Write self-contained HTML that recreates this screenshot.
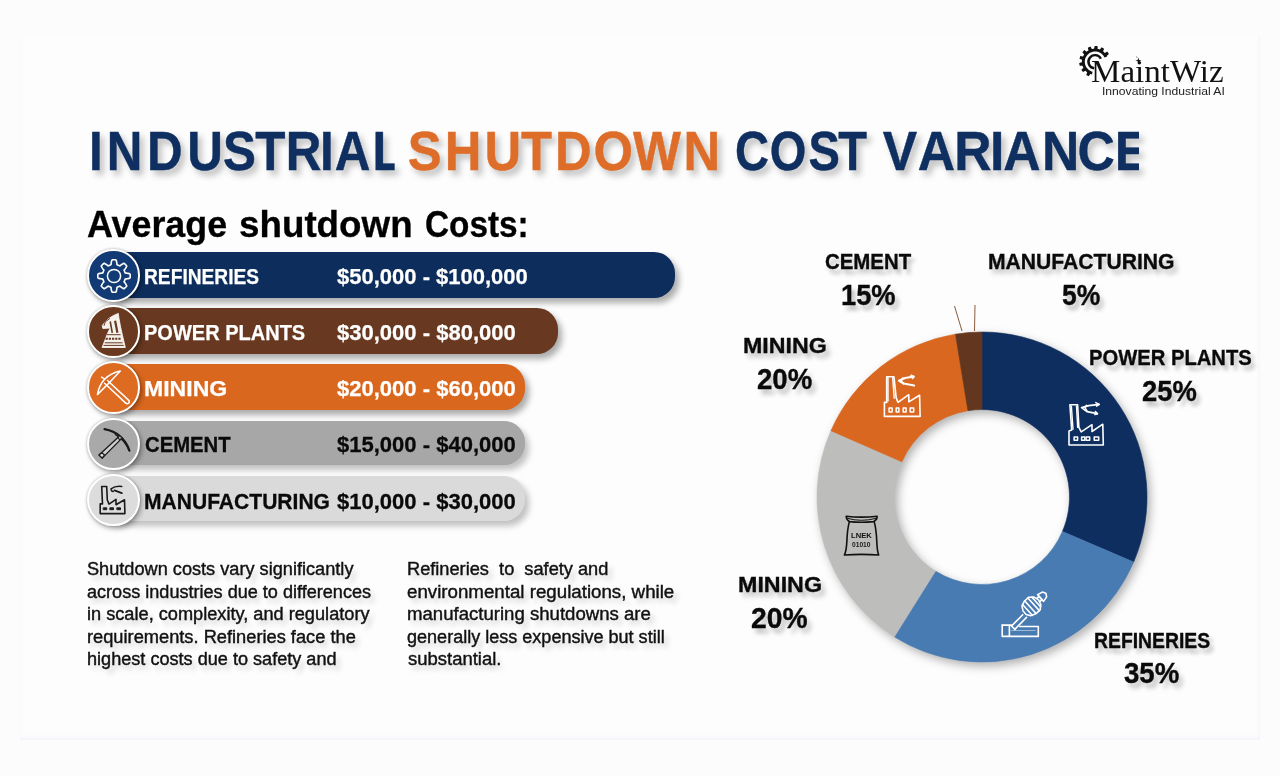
<!DOCTYPE html>
<html lang="en"><head><meta charset="utf-8"><title>Industrial Shutdown Cost Variance</title>
<style>
html,body{margin:0;padding:0}
body{width:1280px;height:776px;position:relative;overflow:hidden;background:#fcfcfc;font-family:"Liberation Sans",sans-serif}
.panel{position:absolute;left:20px;top:36px;width:1240px;height:704px;background:#fdfdfd;box-shadow:inset 0 -3px 4px -1px rgba(205,215,238,.22),inset -2px 0 3px -1px rgba(215,222,240,.12)}
.t{position:absolute;white-space:nowrap;line-height:1;transform-origin:0 0;margin:0}
.sh-title{text-shadow:4px 5px 6px rgba(0,0,0,.24)}
.sh-lab{text-shadow:4px 5px 5px rgba(0,0,0,.27);-webkit-text-stroke-width:.35px}
.sh-p{text-shadow:4px 5px 5px rgba(0,0,0,.19);-webkit-text-stroke:.4px #111}
.sh-bar-w{-webkit-text-stroke-width:.25px}
.sh-bar-k{-webkit-text-stroke-width:.3px}
.sh-sub{-webkit-text-stroke-width:.3px}
.bar{position:absolute;left:113px;height:46px;border-radius:0 21px 21px 0;box-shadow:4px 5px 6px rgba(0,0,0,.32)}
.circ{position:absolute;left:87.4px;width:48.4px;height:48.4px;border-radius:50%;border:2px solid #fff;box-shadow:0 0 3px rgba(0,0,0,.28),2px 3px 5px rgba(0,0,0,.30)}
.circ svg{position:absolute;left:-1.8px;top:-1.8px;width:52px;height:52px;overflow:visible}
svg.abs{position:absolute;left:0;top:0;overflow:visible}
.soft{position:absolute;left:0;top:0;width:1280px;height:776px;filter:blur(.55px)}
.ttl text{font-family:"Liberation Sans",sans-serif;font-weight:700;font-size:56.4px}

</style></head>
<body>
<div class="soft">
<div class="panel"></div>
<div class="bar" style="top:252px;width:561.5px;height:46px;background:#0d2e5d"></div>
<div class="bar" style="top:308px;width:445px;height:46px;background:#683820"></div>
<div class="bar" style="top:364px;width:412px;height:46px;background:#da671e"></div>
<div class="bar" style="top:420.5px;width:411.5px;height:44.5px;background:#a6a7a6;box-shadow:4px 5px 6px rgba(0,0,0,.24)"></div>
<div class="bar" style="top:476.3px;width:412px;height:44.5px;background:#dadada;box-shadow:4px 5px 6px rgba(0,0,0,.24)"></div>
<div class="circ" style="top:249.4px;background:#123a75"><svg viewBox="0 0 52 52"><g fill="none" stroke="#fff" stroke-width="1.5" stroke-linejoin="round" stroke-linecap="round"><path d="M42.2 26.0L42.2 26.4L42.2 26.8L42.2 27.3L42.1 27.7L41.9 28.1L41.1 28.4L40.1 28.6L39.1 28.8L38.2 28.9L37.3 29.0L37.1 29.3L37.0 29.6L36.9 29.9L36.8 30.2L36.7 30.4L36.6 30.7L36.5 31.0L36.3 31.3L36.2 31.5L36.1 31.9L36.7 32.6L37.3 33.3L37.8 34.1L38.3 35.0L38.8 35.8L38.6 36.2L38.3 36.5L38.0 36.8L37.8 37.2L37.5 37.5L37.2 37.8L36.8 38.0L36.5 38.3L36.2 38.6L35.8 38.8L35.0 38.3L34.1 37.8L33.3 37.3L32.6 36.7L31.9 36.1L31.5 36.2L31.3 36.3L31.0 36.5L30.7 36.6L30.4 36.7L30.2 36.8L29.9 36.9L29.6 37.0L29.3 37.1L29.0 37.3L28.9 38.2L28.8 39.1L28.6 40.1L28.4 41.1L28.1 41.9L27.7 42.1L27.3 42.2L26.8 42.2L26.4 42.2L26.0 42.2L25.6 42.2L25.2 42.2L24.7 42.2L24.3 42.1L23.9 41.9L23.6 41.1L23.4 40.1L23.2 39.1L23.1 38.2L23.0 37.3L22.7 37.1L22.4 37.0L22.1 36.9L21.8 36.8L21.6 36.7L21.3 36.6L21.0 36.5L20.7 36.3L20.5 36.2L20.1 36.1L19.4 36.7L18.7 37.3L17.9 37.8L17.0 38.3L16.2 38.8L15.8 38.6L15.5 38.3L15.2 38.0L14.8 37.8L14.5 37.5L14.2 37.2L14.0 36.8L13.7 36.5L13.4 36.2L13.2 35.8L13.7 35.0L14.2 34.1L14.7 33.3L15.3 32.6L15.9 31.9L15.8 31.5L15.7 31.3L15.5 31.0L15.4 30.7L15.3 30.4L15.2 30.2L15.1 29.9L15.0 29.6L14.9 29.3L14.7 29.0L13.8 28.9L12.9 28.8L11.9 28.6L10.9 28.4L10.1 28.1L9.9 27.7L9.8 27.3L9.8 26.8L9.8 26.4L9.8 26.0L9.8 25.6L9.8 25.2L9.8 24.7L9.9 24.3L10.1 23.9L10.9 23.6L11.9 23.4L12.9 23.2L13.8 23.1L14.7 23.0L14.9 22.7L15.0 22.4L15.1 22.1L15.2 21.8L15.3 21.6L15.4 21.3L15.5 21.0L15.7 20.7L15.8 20.5L15.9 20.1L15.3 19.4L14.7 18.7L14.2 17.9L13.7 17.0L13.2 16.2L13.4 15.8L13.7 15.5L14.0 15.2L14.2 14.8L14.5 14.5L14.8 14.2L15.2 14.0L15.5 13.7L15.8 13.4L16.2 13.2L17.0 13.7L17.9 14.2L18.7 14.7L19.4 15.3L20.1 15.9L20.5 15.8L20.7 15.7L21.0 15.5L21.3 15.4L21.6 15.3L21.8 15.2L22.1 15.1L22.4 15.0L22.7 14.9L23.0 14.7L23.1 13.8L23.2 12.9L23.4 11.9L23.6 10.9L23.9 10.1L24.3 9.9L24.7 9.8L25.2 9.8L25.6 9.8L26.0 9.8L26.4 9.8L26.8 9.8L27.3 9.8L27.7 9.9L28.1 10.1L28.4 10.9L28.6 11.9L28.8 12.9L28.9 13.8L29.0 14.7L29.3 14.9L29.6 15.0L29.9 15.1L30.2 15.2L30.4 15.3L30.7 15.4L31.0 15.5L31.3 15.7L31.5 15.8L31.9 15.9L32.6 15.3L33.3 14.7L34.1 14.2L35.0 13.7L35.8 13.2L36.2 13.4L36.5 13.7L36.8 14.0L37.2 14.2L37.5 14.5L37.8 14.8L38.0 15.2L38.3 15.5L38.6 15.8L38.8 16.2L38.3 17.0L37.8 17.9L37.3 18.7L36.7 19.4L36.1 20.1L36.2 20.5L36.3 20.7L36.5 21.0L36.6 21.3L36.7 21.6L36.8 21.8L36.9 22.1L37.0 22.4L37.1 22.7L37.3 23.0L38.2 23.1L39.1 23.2L40.1 23.4L41.1 23.6L41.9 23.9L42.1 24.3L42.2 24.7L42.2 25.2L42.2 25.6Z" stroke-width="1.6"/><circle cx="26" cy="26" r="6.6"/></g></svg></div>
<div class="circ" style="top:305.4px;background:#6a3a20"><svg viewBox="0 0 52 52"><path d="M30.3 7.4Q31.1 15.9 37.3 41.5L14.1 41.5L19.5 27.5L22.2 22.1L14.9 22.5L14.2 19.8Q19.5 11.3 30.3 7.4Z" fill="#f4f0ec" stroke="#fff" stroke-width=".8" stroke-linejoin="round"/>
<g stroke="#6a3a20" fill="none"><path d="M18.7 28.7L32.6 28.7" stroke-width="1"/><path d="M17.6 32.8L33.4 32.8" stroke-width="1.9" stroke-dasharray="2.2 1"/><path d="M16.8 36.8L34.6 36.8" stroke-width="1"/><path d="M15.6 39.4L35.7 39.4" stroke-width="1"/>
<path d="M22.2 15.5L24.3 26.8" stroke-width="1.6"/><path d="M27.1 14.8L29.4 26.8" stroke-width="2.2"/><path d="M21.8 12.5L17.2 15.9L16.0 19.8" stroke-width="1"/></g></svg></div>
<div class="circ" style="top:361.4px;background:#de6b22"><svg viewBox="0 0 52 52"><g fill="none" stroke="#fff" stroke-width="1.5" stroke-linejoin="round" stroke-linecap="round" stroke-width="1.4">
<path d="M32.3 9.0Q12.9 13.3 9.4 32.6Q21.4 21.0 32.3 9.0Z"/>
<path d="M16.6 21.2L37.7 41.1"/><path d="M19.5 18.5L40.8 38.4"/><path d="M37.7 41.1A1.7 1.7 0 0 0 40.8 38.4"/>
<path d="M13.5 15.2L16.6 16.9"/></g><circle cx="18.3" cy="20.2" r="1.1" fill="#c0561a"/></svg></div>
<div class="circ" style="top:417.9px;background:#a9a9a9"><svg viewBox="0 0 52 52"><g fill="none" stroke="#1a1a1a" stroke-width="1.6" stroke-linejoin="round" stroke-linecap="round">
<path d="M30.2 19.2L11.1 37.0L14.2 40.1L32.5 21.6Z" fill="#cfcfcf" stroke-width="1.3"/>
<path d="M11.1 37.0L14.2 40.1L16.6 36.9L13.7 34.7Z" fill="#e4e4e4" stroke-width="1.3"/>
<path d="M16.6 11.2Q35.0 14.8 41.4 32.6" stroke-width="2.3"/>
<path d="M27.2 16.6Q36.5 22.2 41.2 32.4" stroke-width="1.1"/>
<path d="M30.3 17.5L34.4 19.9L31.5 21.6Z" fill="#d0d0d0" stroke-width="1"/>
</g></svg></div>
<div class="circ" style="top:473.7px;background:#dcdcdc"><svg viewBox="0 0 52 52"><g fill="none" stroke="#1a1a1a" stroke-width="1.6" stroke-linejoin="round" stroke-linecap="round">
<path d="M12.2 29.9L12.2 39.6L36.9 39.6L36.5 25.7L28.0 30.7L28.0 25.3L21.0 30.1L19.3 26.0L18.7 12.5L13.7 12.5L14.5 29.9Z"/>
<path d="M15.6 33.8L18.7 33.8L18.7 35.7L15.6 35.7Z" fill="#1a1a1a" stroke-width="1"/><path d="M22.2 33.8L25.5 33.8L25.5 35.7L22.2 35.7Z" fill="#1a1a1a" stroke-width="1"/><path d="M29.2 33.8L32.5 33.8L32.5 35.7L29.2 35.7Z" fill="#1a1a1a" stroke-width="1"/>
<path d="M33.8 12.5Q27.2 11.7 23.0 14.8Q23.4 17.5 25.3 17.4" stroke-width="1.5"/>
<path d="M26.5 16.4L33.8 19.1" stroke-width="1.8"/></g></svg></div>
<svg class="abs" width="1280" height="776" viewBox="0 0 1280 776">
<g style="filter:drop-shadow(3px 4px 5px rgba(0,0,0,.30))">
<path d="M982.00 332.00A165 165 0 0 1 1133.66 562.00L1062.42 531.47A87.5 87.5 0 0 0 982.00 409.50Z" fill="#0d2e5e" stroke="#0d2e5e" stroke-width="0.6"/>
<path d="M1133.66 562.00A165 165 0 0 1 894.32 636.78L935.50 571.12A87.5 87.5 0 0 0 1062.42 531.47Z" fill="#487bb2" stroke="#487bb2" stroke-width="0.6"/>
<path d="M894.32 636.78A165 165 0 0 1 830.92 430.68L901.88 461.83A87.5 87.5 0 0 0 935.50 571.12Z" fill="#bdbdbc" stroke="#bdbdbc" stroke-width="0.6"/>
<path d="M830.92 430.68A165 165 0 0 1 955.48 334.15L967.94 410.64A87.5 87.5 0 0 0 901.88 461.83Z" fill="#da6720" stroke="#da6720" stroke-width="0.6"/>
<path d="M955.48 334.15A165 165 0 0 1 982.00 332.00L982.00 409.50A87.5 87.5 0 0 0 967.94 410.64Z" fill="#63361f" stroke="#63361f" stroke-width="0.6"/>
</g>
<path d="M954.5 306L962 331M975 305L974.5 331" stroke="#8a5a3c" stroke-width="1" fill="none"/>
<g fill="none" stroke="#fff" stroke-width="1.6" stroke-linejoin="round" stroke-linecap="round">
<path d="M884.4 402.4L884.4 416.4L920.1 416.4L919.6 395.2L908.8 401.9L908.8 394.7L898.0 402.4L896.2 397.9L893.9 376.7L886.7 376.7L886.7 402.4Z"/>
<path d="M888.0 378.0L888.0 401.0" stroke-width="1.4"/><path d="M892.7 378.0L894.2 398.3" stroke-width="1.4"/>
<path d="M889.1 408.0L892.1 408.0L892.1 411.9L889.1 411.9Z" stroke-width="1.5"/><path d="M896.2 408.0L898.9 408.0L898.9 411.9L896.2 411.9Z" stroke-width="1.5"/>
<path d="M903.2 408.0L906.1 408.0L906.1 411.9L903.2 411.9Z" stroke-width="1.5"/><path d="M910.2 408.0L913.7 408.0L913.7 411.9L910.2 411.9Z" stroke-width="1.5"/>
<path d="M913.7 376.4L905.2 378.0L898.9 380.7L903.4 383.6L914.2 385.5" stroke-width="2"/><path d="M902.9 378.0L901.1 380.9L903.6 383.6" stroke-width="1.6"/><path d="M911.0 375.3L914.0 376.7L912.4 378.5" stroke-width="1.6"/>
</g>
<g fill="none" stroke="#fff" stroke-width="1.6" stroke-linejoin="round" stroke-linecap="round">
<path d="M1069.0 431.0L1069.0 445.0L1103.3 445.0L1102.8 424.2L1092.0 431.5L1092.0 424.7L1081.2 431.9L1078.9 427.4L1077.6 404.8L1069.9 404.8L1071.7 430.1Z"/>
<path d="M1071.4 406.2L1073.0 429.2" stroke-width="1.4"/><path d="M1076.5 406.2L1077.7 427.4" stroke-width="1.4"/>
<path d="M1074.1 436.9L1077.6 436.9L1077.6 440.2L1074.1 440.2Z" stroke-width="1.5"/><path d="M1081.6 436.9L1084.8 436.9L1084.8 440.2L1081.6 440.2Z" stroke-width="1.5"/>
<path d="M1086.1 436.9L1089.7 436.9L1089.7 440.2L1086.1 440.2Z" stroke-width="1.5"/><path d="M1094.2 436.9L1098.7 436.9L1098.7 440.2L1094.2 440.2Z" stroke-width="1.5"/>
<path d="M1099.0 404.4L1088.8 405.6L1081.6 407.6L1087.0 411.6L1097.2 413.7" stroke-width="1.8"/><path d="M1086.6 405.3L1084.9 407.7L1087.3 411.3" stroke-width="1.5"/><path d="M1095.8 402.6L1099.2 404.4L1096.5 406.2" stroke-width="1.5"/><path d="M1095.4 411.6L1097.6 413.7L1094.9 414.6" stroke-width="1.5"/>
</g>
<g fill="none" stroke="#111" stroke-width="1.6" stroke-linejoin="round" stroke-linecap="round">
<path d="M846.2 516.2Q861.1 518.1 877.1 516.2Q877.4 519.4 873.7 521.6Q861.5 522.8 849.4 521.6Q846.1 519.4 846.2 516.2Z"/>
<path d="M849.4 521.6C845.3 536.1 848.5 546.9 844.4 555.0Q861.5 553.8 878.7 555.0C875.5 546.9 878.2 536.1 874.2 521.6"/>
<path d="M847.6 518.4Q861.1 522.3 875.9 518.4" stroke-width="1"/>
</g>
<g fill="none" stroke="#fff" stroke-width="1.6" stroke-linejoin="round" stroke-linecap="round" stroke-width="1.4">
<path d="M1002.2 625.1L1011.6 625.1"/><path d="M1019.8 626.5L1038.3 626.5L1038.3 636.4L1002.2 636.4L1002.2 625.1"/><path d="M1009.4 625.6L1009.4 635.9"/><path d="M1011.6 630.5L1035.1 630.5" stroke-width="0.8" opacity=".6"/>
<path d="M1011.6 626.0L1022.7 614.7"/><path d="M1014.8 629.4L1026.5 617.4"/><path d="M1011.6 626.0L1014.8 629.4"/>
<g transform="translate(1031.5 606.2) rotate(-42)">
<path d="M-9.5 -2 L-9.5 2.5 L-7 6.5 L-2 8.5 L4 8.5 L8 5 L9.5 0 L8 -5 L4 -8.5 L-2 -8.5 L-7 -6.5 Z"/>
<path d="M-5.5 -7.3V7.3M-1.5 -8.5V8.5M2.8 -8.5V8.5M6.3 -6.5V6.5" stroke-width="1.6"/>
<path d="M9.5 -2.2H12.2V2.2H9.5"/>
<path d="M12.2 -4.5L17.5 -3.2L19.3 0L17.5 3.2L12.2 4.5Z"/>
</g>
</g>
</svg>
<svg class="abs" width="1280" height="776" viewBox="0 0 1280 776"><path d="M1107.2 56.4L1106.9 55.8L1108.9 53.9L1107.3 51.6L1104.8 52.9L1103.6 51.7L1103.1 51.3L1104.1 48.7L1101.6 47.3L1100.0 49.5L1098.4 49.0L1097.7 48.9L1097.5 46.1L1094.7 45.9L1094.2 48.6L1092.5 48.9L1091.8 49.0L1090.5 46.6L1087.8 47.7L1088.5 50.4L1087.1 51.3L1086.6 51.7L1084.3 50.1L1082.4 52.3L1084.2 54.4L1083.4 55.8L1083.0 56.4L1080.3 56.0L1079.5 58.7L1082.0 59.8L1081.9 61.5L1081.9 62.2L1079.2 63.0L1079.7 65.8L1082.5 65.7L1083.1 67.3L1083.4 67.9L1081.3 69.8L1083.0 72.1L1085.4 70.8L1086.7 71.9L1087.2 72.4L1086.2 75.0L1088.7 76.3L1090.3 74.1L1091.9 74.6L1092.6 71.8L1091.6 71.5L1090.6 71.1L1089.7 70.6L1088.9 70.0L1088.1 69.3L1087.4 68.6L1086.7 67.8L1086.1 66.9L1085.7 66.0L1085.3 65.0L1085.0 64.0L1084.9 62.9L1084.8 61.9L1084.8 60.9L1085.0 59.8L1085.2 58.8L1085.6 57.8L1086.0 56.9L1086.6 56.0L1087.2 55.2L1087.9 54.4L1088.7 53.7L1089.6 53.1L1090.5 52.6L1091.4 52.2L1092.4 51.9L1093.4 51.6L1094.5 51.5L1095.5 51.5L1096.5 51.6L1097.6 51.8L1098.6 52.1L1099.5 52.5L1100.4 53.0L1101.3 53.6L1102.1 54.2L1102.8 55.0L1103.5 55.8L1104.0 56.7L1104.5 57.6Z" fill="#111"/><path d="M1100.9 58.7A6.6 6.6 0 1 0 1094.2 68.3" fill="none" stroke="#111" stroke-width="2.4"/><path d="M1138.4 57.4L1139.1000000000001 59.9L1141.6000000000001 60.6L1139.1000000000001 61.300000000000004L1138.4 63.800000000000004L1137.7 61.300000000000004L1135.2 60.6L1137.7 59.9Z" fill="#111"/><circle cx="1136.8000000000002" cy="57.0" r=".5" fill="#111"/></svg>

<svg class="abs ttl" width="1280" height="776" viewBox="0 0 1280 776"><clipPath id="cw0"><rect x="0" y="100" width="451.03" height="100"/></clipPath><g style="filter:drop-shadow(4px 5px 3px rgba(0,0,0,.24))"><text clip-path="url(#cw0)" transform="scale(0.875 1)" x="101.78 122.02 167.99 214.02 254.92 291.67 326.70 365.78 382.45 425.62" y="170.4" fill="#0f2f60" stroke="#0f2f60" stroke-width=".45">INDUSTRIAL</text></g><clipPath id="cw1"><rect x="0" y="100" width="797.94" height="100"/></clipPath><g style="filter:drop-shadow(4px 5px 3px rgba(0,0,0,.24))"><text clip-path="url(#cw1)" transform="scale(0.9 1)" x="453.02 494.31 538.34 578.93 616.63 659.50 703.26 759.59" y="170.4" fill="#dd6d28" stroke="#dd6d28" stroke-width=".45">SHUTDOWN</text></g><clipPath id="cw2"><rect x="0" y="100" width="1040.30" height="100"/></clipPath><g style="filter:drop-shadow(4px 5px 3px rgba(0,0,0,.24))"><text clip-path="url(#cw2)" transform="scale(0.835 1)" x="880.34 921.98 968.17 1003.92" y="170.4" fill="#0f2f60" stroke="#0f2f60" stroke-width=".45">COST</text></g><clipPath id="cw3"><rect x="0" y="100" width="1244.70" height="100"/></clipPath><g style="filter:drop-shadow(4px 5px 3px rgba(0,0,0,.24))"><text clip-path="url(#cw3)" transform="scale(0.915 1)" x="964.80 1002.98 1042.94 1082.07 1096.56 1138.86 1177.65 1218.33" y="170.4" fill="#0f2f60" stroke="#0f2f60" stroke-width=".45">VARIANCE</text></g></svg>
<div class="t sh-sub" style="left:87.34px;top:207.00px;font-size:36.3px;font-weight:700;color:#000;font-family:'Liberation Sans', sans-serif;transform:scaleX(0.9875)">Average</div>
<div class="t sh-sub" style="left:239.45px;top:207.00px;font-size:36.3px;font-weight:700;color:#000;font-family:'Liberation Sans', sans-serif;transform:scaleX(1.0131)">shutdown</div>
<div class="t sh-sub" style="left:424.66px;top:207.00px;font-size:36.3px;font-weight:700;color:#000;font-family:'Liberation Sans', sans-serif;transform:scaleX(0.9183)">Costs:</div>
<div class="t sh-bar-w" style="left:144.30px;top:265.00px;font-size:22.9px;font-weight:700;color:#fff;font-family:'Liberation Sans', sans-serif;transform:scaleX(0.8383)">REFINERIES</div>
<div class="t sh-bar-w" style="left:337.00px;top:265.00px;font-size:22.9px;font-weight:700;color:#fff;font-family:'Liberation Sans', sans-serif;transform:scaleX(0.9610)">$50,000 - $100,000</div>
<div class="t sh-bar-w" style="left:144.25px;top:321.00px;font-size:22.9px;font-weight:700;color:#fff;font-family:'Liberation Sans', sans-serif;transform:scaleX(0.8743)">POWER PLANTS</div>
<div class="t sh-bar-w" style="left:337.00px;top:321.00px;font-size:22.9px;font-weight:700;color:#fff;font-family:'Liberation Sans', sans-serif;transform:scaleX(0.9623)">$30,000 - $80,000</div>
<div class="t sh-bar-w" style="left:144.06px;top:377.00px;font-size:22.9px;font-weight:700;color:#fff;font-family:'Liberation Sans', sans-serif;transform:scaleX(1.0075)">MINING</div>
<div class="t sh-bar-w" style="left:337.00px;top:377.00px;font-size:22.9px;font-weight:700;color:#fff;font-family:'Liberation Sans', sans-serif;transform:scaleX(0.9623)">$20,000 - $60,000</div>
<div class="t sh-bar-k" style="left:144.87px;top:433.00px;font-size:22.9px;font-weight:700;color:#0a0a0a;font-family:'Liberation Sans', sans-serif;transform:scaleX(0.8860)">CEMENT</div>
<div class="t sh-bar-k" style="left:337.00px;top:433.00px;font-size:22.9px;font-weight:700;color:#0a0a0a;font-family:'Liberation Sans', sans-serif;transform:scaleX(0.9623)">$15,000 - $40,000</div>
<div class="t sh-bar-k" style="left:144.18px;top:490.00px;font-size:22.9px;font-weight:700;color:#0a0a0a;font-family:'Liberation Sans', sans-serif;transform:scaleX(0.9199)">MANUFACTURING</div>
<div class="t sh-bar-k" style="left:337.00px;top:490.00px;font-size:22.9px;font-weight:700;color:#0a0a0a;font-family:'Liberation Sans', sans-serif;transform:scaleX(0.9623)">$10,000 - $30,000</div>
<div class="t sh-lab" style="left:824.86px;top:250.00px;font-size:22.9px;font-weight:700;color:#0a0a0a;font-family:'Liberation Sans', sans-serif;transform:scaleX(0.8912)">CEMENT</div>
<div class="t sh-lab" style="left:840.80px;top:280.00px;font-size:30.0px;font-weight:700;color:#0a0a0a;font-family:'Liberation Sans', sans-serif;transform:scaleX(0.9092)">15%</div>
<div class="t sh-lab" style="left:987.68px;top:250.00px;font-size:22.9px;font-weight:700;color:#0a0a0a;font-family:'Liberation Sans', sans-serif;transform:scaleX(0.9224)">MANUFACTURING</div>
<div class="t sh-lab" style="left:1061.59px;top:280.00px;font-size:30.0px;font-weight:700;color:#0a0a0a;font-family:'Liberation Sans', sans-serif;transform:scaleX(0.8831)">5%</div>
<div class="t sh-lab" style="left:743.05px;top:334.00px;font-size:22.9px;font-weight:700;color:#0a0a0a;font-family:'Liberation Sans', sans-serif;transform:scaleX(1.0137)">MINING</div>
<div class="t sh-lab" style="left:757.14px;top:364.00px;font-size:30.0px;font-weight:700;color:#0a0a0a;font-family:'Liberation Sans', sans-serif;transform:scaleX(0.9202)">20%</div>
<div class="t sh-lab" style="left:1088.74px;top:346.00px;font-size:22.9px;font-weight:700;color:#0a0a0a;font-family:'Liberation Sans', sans-serif;transform:scaleX(0.8825)">POWER PLANTS</div>
<div class="t sh-lab" style="left:1141.65px;top:376.00px;font-size:30.0px;font-weight:700;color:#0a0a0a;font-family:'Liberation Sans', sans-serif;transform:scaleX(0.9117)">25%</div>
<div class="t sh-lab" style="left:737.95px;top:573.00px;font-size:22.9px;font-weight:700;color:#0a0a0a;font-family:'Liberation Sans', sans-serif;transform:scaleX(1.0162)">MINING</div>
<div class="t sh-lab" style="left:751.37px;top:603.00px;font-size:30.0px;font-weight:700;color:#0a0a0a;font-family:'Liberation Sans', sans-serif;transform:scaleX(0.9415)">20%</div>
<div class="t sh-lab" style="left:1093.79px;top:629.00px;font-size:22.9px;font-weight:700;color:#0a0a0a;font-family:'Liberation Sans', sans-serif;transform:scaleX(0.8457)">REFINERIES</div>
<div class="t sh-lab" style="left:1124.07px;top:658.00px;font-size:30.0px;font-weight:700;color:#0a0a0a;font-family:'Liberation Sans', sans-serif;transform:scaleX(0.9214)">35%</div>
<div class="t sh-p" style="left:87.43px;top:561.00px;font-size:17.6px;font-weight:400;color:#111;font-family:'Liberation Sans', sans-serif;transform:scaleX(1.0322)">Shutdown costs vary significantly</div>
<div class="t sh-p" style="left:87.43px;top:584.00px;font-size:17.6px;font-weight:400;color:#111;font-family:'Liberation Sans', sans-serif;transform:scaleX(1.0275)">across industries due to differences</div>
<div class="t sh-p" style="left:86.86px;top:606.00px;font-size:17.6px;font-weight:400;color:#111;font-family:'Liberation Sans', sans-serif;transform:scaleX(1.0331)">in scale, complexity, and regulatory</div>
<div class="t sh-p" style="left:86.86px;top:629.00px;font-size:17.6px;font-weight:400;color:#111;font-family:'Liberation Sans', sans-serif;transform:scaleX(1.0372)">requirements. Refineries face the</div>
<div class="t sh-p" style="left:86.87px;top:651.00px;font-size:17.6px;font-weight:400;color:#111;font-family:'Liberation Sans', sans-serif;transform:scaleX(1.0289)">highest costs due to safety and</div>
<div class="t sh-p" style="left:406.58px;top:561.00px;font-size:17.6px;font-weight:400;color:#111;font-family:'Liberation Sans', sans-serif;transform:scaleX(1.0347)">Refineries  to  safety and</div>
<div class="t sh-p" style="left:407.42px;top:584.00px;font-size:17.6px;font-weight:400;color:#111;font-family:'Liberation Sans', sans-serif;transform:scaleX(1.0633)">environmental regulations, while</div>
<div class="t sh-p" style="left:406.84px;top:606.00px;font-size:17.6px;font-weight:400;color:#111;font-family:'Liberation Sans', sans-serif;transform:scaleX(1.0564)">manufacturing shutdowns are</div>
<div class="t sh-p" style="left:407.44px;top:629.00px;font-size:17.6px;font-weight:400;color:#111;font-family:'Liberation Sans', sans-serif;transform:scaleX(1.0252)">generally less expensive but still</div>
<div class="t sh-p" style="left:407.71px;top:651.00px;font-size:17.6px;font-weight:400;color:#111;font-family:'Liberation Sans', sans-serif;transform:scaleX(1.0497)">substantial.</div>
<div class="t " style="left:850.72px;top:532.00px;font-size:7.8px;font-weight:700;color:#111;font-family:'Liberation Sans', sans-serif;transform:scaleX(0.9750)">LNEK</div>
<div class="t " style="left:851.89px;top:542.00px;font-size:6.5px;font-weight:700;color:#1a1a1a;font-family:'Liberation Sans', sans-serif;transform:scaleX(1.0222)">01010</div>
<div class="t " style="left:1091.48px;top:57.00px;font-size:30.5px;font-weight:400;color:#111;font-family:'Liberation Serif', serif;transform:scaleX(1.0834)">MaintWiz</div>
<div class="t " style="left:1101.55px;top:86.00px;font-size:10.9px;font-weight:400;color:#222;font-family:'Liberation Sans', sans-serif;transform:scaleX(1.1142)">Innovating Industrial AI</div>
</div>
</body></html>
